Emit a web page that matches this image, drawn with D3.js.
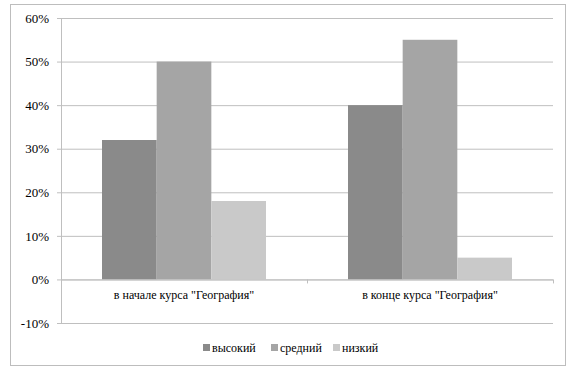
<!DOCTYPE html>
<html>
<head>
<meta charset="utf-8">
<script src="https://cdn.jsdelivr.net/npm/d3@7"></script>
<style>
  body { margin: 0; background: #fff; }
</style>
</head>
<body>
<div id="chart"></div>
<script>
const categories = ['в начале курса "География"', 'в конце курса "География"'];
const seriesNames = ["высокий", "средний", "низкий"];
const high = [0.32, 0.40];
const medium = [0.50, 0.55];
const low = [0.18, 0.05];
const yTicks = [-0.1, 0, 0.1, 0.2, 0.3, 0.4, 0.5, 0.6];

const seriesValues = [high, medium, low];
const colors = ["#8a8a8a", "#a5a5a5", "#c9c9c9"];
const fontName = "Liberation Serif";

const width = 576, height = 373;
const plotLeft = 61, plotRight = 553, plotTop = 18, plotBottom = 323;

const svg = d3.select("#chart").append("svg")
  .attr("width", width)
  .attr("height", height)
  .attr("font-family", fontName);

// outer frame
svg.append("rect")
  .attr("x", 10.5).attr("y", 4.5)
  .attr("width", 555).attr("height", 361)
  .attr("fill", "#fff")
  .attr("stroke", "#bdbdbd");

const y = d3.scaleLinear().domain([-0.1, 0.6]).range([plotBottom, plotTop]);
const x0 = d3.scaleBand().domain(categories).range([plotLeft, plotRight]).paddingInner(0).paddingOuter(0);
const x1 = d3.scaleBand().domain(seriesNames).range([0, x0.bandwidth()]).paddingOuter(0.75);

const pct = d => d3.format(".0%")(d).replace("\u2212", "-");

// gridlines + y axis labels
const yAxis = svg.append("g")
  .attr("transform", `translate(${plotLeft},0)`)
  .call(d3.axisLeft(y).tickValues(yTicks).tickFormat(pct)
    .tickSize(-(plotRight - plotLeft)).tickPadding(12));
yAxis.attr("font-family", null).attr("font-size", null);
yAxis.select(".domain").remove();
yAxis.selectAll(".tick line")
  .attr("x1", -4)
  .attr("stroke", "#bfbfbf");
yAxis.selectAll(".tick text")
  .attr("font-family", fontName)
  .attr("font-size", 13)
  .attr("fill", "#000");

// vertical axis line
svg.append("line")
  .attr("x1", plotLeft + 0.5).attr("x2", plotLeft + 0.5)
  .attr("y1", plotTop).attr("y2", plotBottom)
  .attr("stroke", "#bfbfbf");

// bars
const groups = svg.append("g").selectAll("g")
  .data(categories)
  .join("g")
  .attr("transform", d => `translate(${x0(d)},0)`);

groups.selectAll("rect")
  .data((c, i) => seriesNames.map((s, j) => ({ s, v: seriesValues[j][i], j })))
  .join("rect")
  .attr("x", d => x1(d.s))
  .attr("width", x1.bandwidth())
  .attr("y", d => y(d.v))
  .attr("height", d => y(0) - y(d.v))
  .attr("fill", d => colors[d.j]);

// category axis at 0
const xAxis = svg.append("g")
  .attr("transform", `translate(0,${y(0)})`);
xAxis.append("line")
  .attr("x1", plotLeft).attr("x2", plotRight)
  .attr("y1", 0.5).attr("y2", 0.5)
  .attr("stroke", "#bfbfbf");
xAxis.selectAll("line.tk")
  .data([plotLeft, plotLeft + x0.bandwidth(), plotRight])
  .join("line")
  .attr("class", "tk")
  .attr("x1", d => d + 0.5).attr("x2", d => d + 0.5)
  .attr("y1", 0).attr("y2", 4)
  .attr("stroke", "#bfbfbf");
xAxis.selectAll("text")
  .data(categories)
  .join("text")
  .attr("x", d => x0(d) + x0.bandwidth() / 2)
  .attr("y", 20)
  .attr("text-anchor", "middle")
  .attr("font-family", fontName)
  .attr("font-size", 12)
  .text(d => d);

// legend
const legendX = [203, 271, 333];
const legend = svg.append("g").selectAll("g")
  .data(seriesNames)
  .join("g")
  .attr("transform", (d, i) => `translate(${legendX[i]},349)`);
legend.append("rect")
  .attr("x", 0).attr("y", -5)
  .attr("width", 7).attr("height", 7)
  .attr("fill", (d, i) => colors[i]);
legend.append("text")
  .attr("x", 9).attr("y", 3)
  .attr("font-family", fontName)
  .attr("font-size", 12)
  .text(d => d);
</script>
</body>
</html>
